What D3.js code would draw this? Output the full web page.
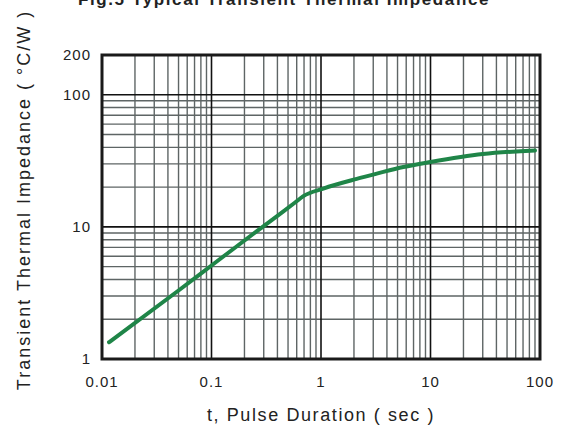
<!DOCTYPE html>
<html>
<head>
<meta charset="utf-8">
<script src="https://cdn.jsdelivr.net/npm/d3@7"></script>
<style>
  body { margin: 0; background: #fff; }
  text { font-family: "Liberation Sans", Arial, sans-serif; fill: #222; }
</style>
</head>
<body>
<div id="chart"></div>
<script>
// data
const pulseTime = [0.0116, 0.05, 0.1, 0.26, 0.42, 0.58, 0.69, 1.05, 2.12, 3.23, 5.65, 10, 30, 90];
const impedance = [1.34, 3.3, 5.1, 9.3, 12.5, 15.3, 17.1, 19.5, 23.1, 25.3, 28.4, 31, 35.6, 37.9];

const xTicks = [0.01, 0.1, 1, 10, 100];
const xTickLabels = ["0.01", "0.1", "1", "10", "100"];
const yTicks = [1, 10, 100, 200];
const yTickLabels = ["1", "10", "100", "200"];

const width = 567, height = 428;
const margin = { top: 55, right: 27, bottom: 69, left: 102 };

const svg = d3.select("#chart").append("svg")
  .attr("width", width).attr("height", height);

const x = d3.scaleLog().domain([0.01, 100]).range([margin.left, width - margin.right]);
const y = d3.scaleLog().domain([1, 200]).range([height - margin.bottom, margin.top]);

// grid
const minorX = [], majorX = [];
for (let e = -2; e < 2; e++) {
  for (let m = 1; m < 10; m++) {
    const v = m * Math.pow(10, e);
    if (m === 1) { if (e > -2) majorX.push(v); } else minorX.push(v);
  }
}
const minorY = [], majorY = [10, 100];
for (let e = 0; e < 2; e++) {
  for (let m = 2; m < 10; m++) minorY.push(m * Math.pow(10, e));
}

const grid = svg.append("g");
grid.selectAll(".mx").data(minorX).enter().append("line")
  .attr("x1", d => x(d)).attr("x2", d => x(d))
  .attr("y1", y(200)).attr("y2", y(1))
  .attr("stroke", "#5e6565").attr("stroke-width", 1.4);
grid.selectAll(".my").data(minorY).enter().append("line")
  .attr("y1", d => y(d)).attr("y2", d => y(d))
  .attr("x1", x(0.01)).attr("x2", x(100))
  .attr("stroke", "#5e6565").attr("stroke-width", 1.4);
grid.selectAll(".Mx").data(majorX).enter().append("line")
  .attr("x1", d => x(d)).attr("x2", d => x(d))
  .attr("y1", y(200)).attr("y2", y(1))
  .attr("stroke", "#111").attr("stroke-width", 1.6);
grid.selectAll(".My").data(majorY).enter().append("line")
  .attr("y1", d => y(d)).attr("y2", d => y(d))
  .attr("x1", x(0.01)).attr("x2", x(100))
  .attr("stroke", "#111").attr("stroke-width", 1.6);

// curve
const line = d3.line()
  .x((d, i) => x(pulseTime[i]))
  .y(d => y(d))
  .curve(d3.curveMonotoneX);

svg.append("path")
  .datum(impedance)
  .attr("d", line)
  .attr("fill", "none")
  .attr("stroke", "#1f8548")
  .attr("stroke-width", 4)
  .attr("stroke-linecap", "round");

// frame
svg.append("rect")
  .attr("x", x(0.01)).attr("y", y(200))
  .attr("width", x(100) - x(0.01)).attr("height", y(1) - y(200))
  .attr("fill", "none").attr("stroke", "#1a1a1a").attr("stroke-width", 3);

// tick labels
svg.selectAll(".xl").data(xTicks).enter().append("text")
  .attr("x", d => x(d)).attr("y", 387)
  .attr("text-anchor", "middle").attr("font-size", 15)
  .attr("letter-spacing", 1)
  .text((d, i) => xTickLabels[i]);

svg.selectAll(".yl").data(yTicks).enter().append("text")
  .attr("x", 91).attr("y", d => y(d) + 5)
  .attr("text-anchor", "end").attr("font-size", 15)
  .attr("letter-spacing", 1)
  .text((d, i) => yTickLabels[i]);

// titles
svg.append("text")
  .attr("x", 284).attr("y", 5)
  .attr("text-anchor", "middle").attr("font-size", 17).attr("font-weight", "bold")
  .attr("letter-spacing", 1.6)
  .attr("fill", "#333")
  .text("Fig.5  Typical Transient Thermal Impedance");

svg.append("text")
  .attr("x", 321).attr("y", 421)
  .attr("text-anchor", "middle").attr("font-size", 18)
  .attr("letter-spacing", 1.6)
  .text("t, Pulse Duration ( sec )");

svg.append("text")
  .attr("transform", "translate(30,200) rotate(-90)")
  .attr("text-anchor", "middle").attr("font-size", 18)
  .attr("letter-spacing", 2)
  .text("Transient Thermal Impedance ( °C/W )");
</script>
</body>
</html>
